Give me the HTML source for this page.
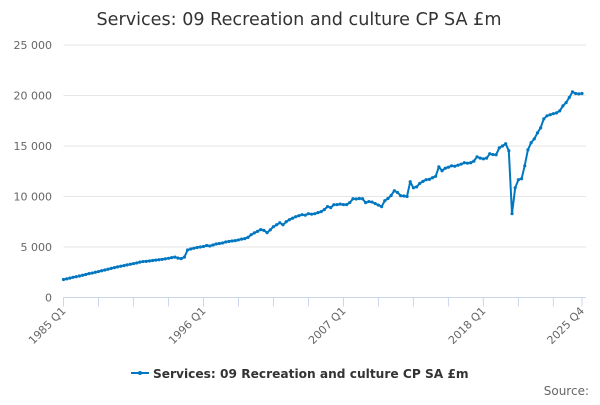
<!DOCTYPE html>
<html><head><meta charset="utf-8"><style>
body{margin:0;background:#fff;font-family:"Liberation Sans","DejaVu Sans",sans-serif}
svg text{font-family:"DejaVu Sans","Liberation Sans",sans-serif}
</style></head><body>
<svg id="chart" width="600" height="400" viewBox="0 0 600 400" xmlns="http://www.w3.org/2000/svg">
<text x="299" y="25" text-anchor="middle" font-size="17.6" fill="#333">Services: 09 Recreation and culture CP SA £m</text>
<g id="grid"></g><g id="yticks"></g><g id="xticks"></g><g id="series"></g>
<g>
<line x1="131" y1="373" x2="149" y2="373" stroke="#0077c0" stroke-width="2"/>
<circle cx="140" cy="373" r="2" fill="#0077c0"/>
<text x="153" y="378" font-size="12.2" font-weight="bold" fill="#333">Services: 09 Recreation and culture CP SA £m</text>
</g>
<text x="589" y="395" text-anchor="end" font-size="12" fill="#666">Source:</text>
</svg>
<script>
const yTicks=[0,5000,10000,15000,20000,25000];
const yTickLabels=["0","5 000","10 000","15 000","20 000","25 000"];
const xLabelIdx=[0,44,88,132,163];
const xLabels=["1985 Q1","1996 Q1","2007 Q1","2018 Q1","2025 Q4"];
const values=[1780,1850,1920,2000,2060,2130,2200,2280,
2370,2420,2500,2570,2650,2720,2800,2880,
2960,3030,3100,3160,3230,3290,3360,3420,3500,
3560,3580,3620,3660,3700,3740,3780,3830,3880,
3950,4000,3900,3850,4000,
4700,4800,4880,4950,5000,
5050,5150,5100,5200,5300,
5350,5400,5500,5550,5600,
5630,5700,5780,5830,5950,
6220,6400,6550,6720,6650,
6420,6700,7010,7200,7400,
7200,7500,7700,7850,8000,
8100,8200,8150,8300,8250,
8300,8400,8500,8700,9000,
8900,9190,9200,9250,9200,
9200,9400,9780,9750,9800,
9780,9390,9500,9450,9300,
9150,9000,9580,9800,10100,
10570,10400,10080,10050,10000,
11460,10870,10950,11300,11500,
11660,11700,11860,12000,12940,
12550,12800,12900,13040,13000,
13100,13200,13340,13300,13340,
13500,13930,13800,13730,13800,
14230,14150,14130,14820,15000,
15220,14530,8300,10870,11660,
11760,13040,14620,15320,15710,
16300,16800,17690,17990,18100,
18200,18280,18480,18970,19300,
19800,20360,20200,20160,20200];
const NS="http://www.w3.org/2000/svg";
const X0=63.5,X1=582,Y0=297.5,Y1=45;
const xs=i=>X0+(X1-X0)*i/(values.length-1);
const ys=v=>Y0-(Y0-Y1)*v/25000;
function mk(t,a,p){const e=document.createElementNS(NS,t);for(const k in a)e.setAttribute(k,a[k]);p.appendChild(e);return e;}
const grid=document.getElementById('grid'),yt=document.getElementById('yticks'),xt=document.getElementById('xticks'),se=document.getElementById('series');
yTicks.forEach((v,i)=>{
 if(v>0){const g=mk('line',{x1:X0,x2:X1+4,y1:ys(v),y2:ys(v),stroke:'#e6e6e6','stroke-width':1},grid);
 
 }
 const t=mk('text',{x:52,y:ys(v)+4,'text-anchor':'end','font-size':11,fill:'#666'},yt);t.textContent=yTickLabels[i];
 
 
});
const ax=mk('line',{x1:X0,x2:X1+4,y1:Y0,y2:Y0,stroke:'#ccd6eb','stroke-width':1},xt);


for(let i=0;i<values.length;i+=11){const tk=mk('line',{x1:xs(i),x2:xs(i),y1:Y0,y2:Y0+9,stroke:'#ccd6eb'},xt);
 
 }
const te=mk('line',{x1:xs(values.length-1),x2:xs(values.length-1),y1:Y0,y2:Y0+9,stroke:'#ccd6eb'},xt);


xLabelIdx.forEach((idx,i)=>{const x=xs(idx)+3,y=Y0+14;
 const t=mk('text',{x:x,y:y,'text-anchor':'end','font-size':11,fill:'#666',transform:`rotate(-45 ${x} ${y})`},xt);t.textContent=xLabels[i];
 
 });
const pts=values.map((v,i)=>xs(i).toFixed(1)+','+ys(v).toFixed(1)).join(' ');
const pl=mk('polyline',{points:pts,fill:'none',stroke:'#0077c0','stroke-width':2,'stroke-linejoin':'round'},se);


values.forEach((v,i)=>{const c=mk('circle',{cx:xs(i),cy:ys(v),r:1.6,fill:'#0077c0'},se);
 
 });
</script>
</body></html>
